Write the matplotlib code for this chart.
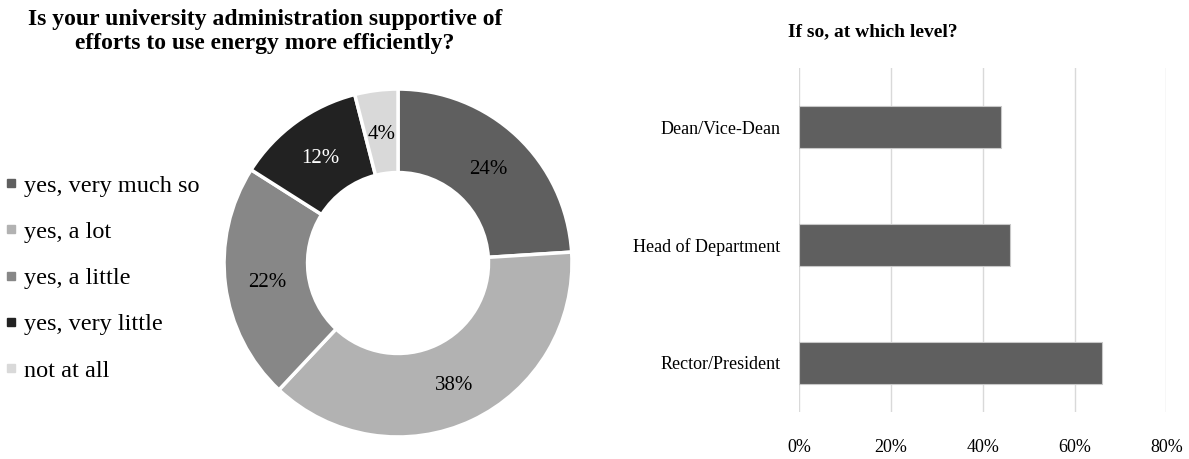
import matplotlib.pyplot as plt
from matplotlib.lines import Line2D

plt.rcParams['font.family'] = ['Liberation Serif', 'DejaVu Serif']

# donut data
answers = ["yes, very much so", "yes, a lot", "yes, a little", "yes, very little", "not at all"]
shares = [24, 38, 22, 12, 4]
donut_colors = ["#5f5f5f", "#b2b2b2", "#878787", "#222222", "#d9d9d9"]
label_colors = ["black", "black", "black", "white", "black"]

# bar data
levels = ["Rector/President", "Head of Department", "Dean/Vice-Dean"]
level_share = [0.66, 0.46, 0.44]
xticks = [0, 0.2, 0.4, 0.6, 0.8]
xtick_labels = ["0%", "20%", "40%", "60%", "80%"]

fig = plt.figure(figsize=(11.89, 4.59), dpi=100)

# ---- donut
ax1 = fig.add_axes([0.1884, 0.048, 0.2927, 0.758])
wedges, texts = ax1.pie(shares, colors=donut_colors, startangle=90, counterclock=False,
                        radius=1.0, wedgeprops=dict(width=0.48, edgecolor="white", linewidth=2.5),
                        labels=[str(s) + "%" for s in shares], labeldistance=0.76,
                        textprops=dict(fontsize=15))
for t, c in zip(texts, label_colors):
    t.set_color(c)
    t.set_ha("center")
    t.set_va("center_baseline")
ax1.set_aspect("equal")
ax1.set_xlim(-1.0, 1.0)
ax1.set_ylim(-1.0, 1.0)

fig.text(0.223, 0.932, "Is your university administration supportive of\nefforts to use energy more efficiently?",
         ha="center", va="center", fontsize=17, fontweight="bold", linespacing=1.2)

handles = [Line2D([0], [0], marker="s", linestyle="", markersize=6, markerfacecolor=c,
                  markeredgecolor=c) for c in donut_colors]
fig.legend(handles, answers, loc="center left", bbox_to_anchor=(-0.004, 0.394), frameon=False,
           fontsize=17.5, handlelength=0.5, handletextpad=0.3, labelspacing=1.0,
           borderaxespad=0)

# ---- bars
ax2 = fig.add_axes([0.672, 0.102, 0.309, 0.749])
ax2.barh(range(len(levels)), level_share, height=0.36, color="#5f5f5f", edgecolor="#c8c8c8",
         linewidth=0.8, zorder=3)
ax2.set_xlim(0, 0.8)
ax2.set_ylim(-0.42, 2.5)
ax2.set_xticks(xticks)
ax2.set_xticklabels(xtick_labels, fontsize=13)
ax2.set_yticks(range(len(levels)))
ax2.set_yticklabels(levels, fontsize=13)
ax2.grid(axis="x", color="#d9d9d9", linewidth=1, zorder=0)
for s in ax2.spines.values():
    s.set_visible(False)
ax2.tick_params(axis="x", length=0, pad=19)
ax2.tick_params(axis="y", length=0, pad=13.5)
ax2.set_title("If so, at which level?", fontsize=14, fontweight="bold", x=0.2, pad=23)

fig.savefig("out.png", dpi=100)
